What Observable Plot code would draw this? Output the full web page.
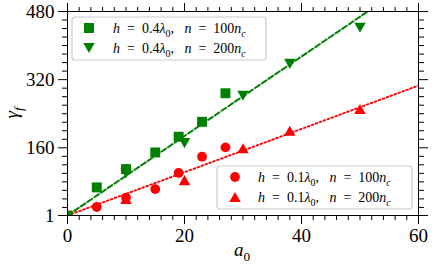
<!DOCTYPE html>
<html><head><meta charset="utf-8">
<script src="https://cdn.jsdelivr.net/npm/d3@7"></script>
<script src="https://cdn.jsdelivr.net/npm/@observablehq/plot@0.6"></script>
<style>body{margin:0;background:#fff} svg{display:block}</style>
</head><body><div id="chart"></div>
<script>
// ---- data ----
const xTicks = [0, 20, 40, 60];
const yTicks = [1, 160, 320, 480];
const xMinor = [2,4,6,8,10,12,14,16,18,22,24,26,28,30,32,34,36,38,42,44,46,48,50,52,54,56,58];
const yMinor = [20,40,60,80,100,120,140,180,200,220,240,260,280,300,340,360,380,400,420,440,460];

const greenSqA  = [0, 5, 10, 15, 19, 23, 27];
const greenSqG  = [1, 67, 110, 149, 186, 221, 288];
const greenTriA = [10, 20, 30, 38, 50];
const greenTriG = [100, 171, 282, 357, 442];
const redCircA  = [5, 10, 15, 19, 23, 27];
const redCircG  = [21, 43, 63, 101, 139, 161];
const redTriA   = [10, 20, 30, 38, 50];
const redTriG   = [40, 84, 159, 200, 251];

const greenFitA = [0, 60];
const greenFitG = [1, 561];
const redFitA   = [0, 60];
const redFitG   = [1, 306];

const legendH = ["0.4", "0.4", "0.1", "0.1"];
const legendN = ["100", "200", "100", "200"];

const rows = (xs, ys) => xs.map((a, i) => ({a, g: ys[i]}));

const triDown = {draw(ctx, size){ const s=Math.sqrt(size/Math.PI), w=s*1.2, h=s*1.05;
  ctx.moveTo(-w,-h); ctx.lineTo(w,-h); ctx.lineTo(0,h); ctx.closePath(); }};
const triUp = {draw(ctx, size){ const s=Math.sqrt(size/Math.PI), w=s*1.2, h=s*1.05;
  ctx.moveTo(-w,h); ctx.lineTo(w,h); ctx.lineTo(0,-h); ctx.closePath(); }};

const serif = "'Liberation Serif','DejaVu Serif',serif";
const tickFont = 19;

const plot = Plot.plot({
  width: 436, height: 272,
  marginLeft: 67, marginRight: 18, marginTop: 11, marginBottom: 57,
  style: {background: "white", fontFamily: serif, color: "black"},
  x: {domain: [0, 60]},
  y: {domain: [1, 480]},
  marks: [
    Plot.line(rows(greenFitA, greenFitG), {x: "a", y: "g", stroke: "green", strokeWidth: 2, strokeDasharray: "5.5,2.6", clip: true}),
    Plot.line(rows(redFitA, redFitG), {x: "a", y: "g", stroke: "red", strokeWidth: 1.9, strokeDasharray: "1.7,2.5", clip: true}),
    Plot.dot(rows(redCircA, redCircG), {x: "a", y: "g", symbol: "circle", r: 4.9, fill: "red", stroke: "none", clip: true}),
    Plot.dot(rows(redTriA, redTriG), {x: "a", y: "g", symbol: triUp, r: 4.8, fill: "red", stroke: "none", clip: true}),
    Plot.dot(rows(greenSqA, greenSqG), {x: "a", y: "g", symbol: "square", r: 5.6, fill: "green", stroke: "none", clip: true}),
    Plot.dot(rows(greenTriA, greenTriG), {x: "a", y: "g", symbol: triDown, r: 4.8, fill: "green", stroke: "none", clip: true}),
    Plot.frame({stroke: "black", strokeWidth: 1}),
    Plot.axisX({ticks: xTicks, tickSize: 9, tickPadding: 4, fontSize: tickFont, label: null, tickFormat: d => String(d)}),
    Plot.axisX({ticks: xMinor, tickSize: 5, label: null, tickFormat: () => ""}),
    Plot.axisX({anchor: "top", ticks: xTicks, tickSize: 9, label: null, tickFormat: () => ""}),
    Plot.axisX({anchor: "top", ticks: xMinor, tickSize: 5, label: null, tickFormat: () => ""}),
    Plot.axisY({ticks: yTicks, tickSize: 9, tickPadding: 4, fontSize: tickFont, label: null, tickFormat: d => String(d)}),
    Plot.axisY({ticks: yMinor, tickSize: 5, label: null, tickFormat: () => ""}),
    Plot.axisY({anchor: "right", ticks: yTicks, tickSize: 9, label: null, tickFormat: () => ""}),
    Plot.axisY({anchor: "right", ticks: yMinor, tickSize: 5, label: null, tickFormat: () => ""})
  ]
});
document.getElementById("chart").appendChild(plot);

const svg = d3.select(plot);
function mathText(sel, parts, size){
  // parts: [text, italic, sub]
  let sub = false;
  parts.forEach(([t, it, s]) => {
    const ts = sel.append("tspan").text(t).attr("font-style", it ? "italic" : "normal");
    if (s && !sub) { ts.attr("dy", size*0.28).attr("font-size", size*0.7); sub = true; }
    else if (s) { ts.attr("font-size", size*0.7); }
    else if (!s && sub) { ts.attr("dy", -size*0.28); sub = false; }
  });
}
// axis labels
const yl = svg.append("text").attr("transform", "translate(18,113) rotate(-90)")
  .attr("text-anchor", "middle").attr("font-family", serif).attr("font-size", 19).attr("fill", "black");
mathText(yl, [["γ", true, false], ["f", true, true]], 19);
const xl = svg.append("text").attr("x", 242).attr("y", 256)
  .attr("text-anchor", "middle").attr("font-family", serif).attr("font-size", 19).attr("fill", "black");
mathText(xl, [["a", true, false], ["0", false, true]], 19);

// legends
const legSymbols = [d3.symbolSquare, triDown, d3.symbolCircle, triUp];
const legSizes = [100, 72, 75, 72];
const legColors = ["green", "green", "red", "red"];
const EQ = "\u2002=\u2002";
function legend(x0, y0, w, h, mx, tx, idx){
  const g = svg.append("g");
  g.append("rect").attr("x", x0).attr("y", y0).attr("width", w).attr("height", h).attr("rx", 3)
    .attr("fill", "white").attr("fill-opacity", 0.8).attr("stroke", "#cccccc").attr("stroke-width", 1.2);
  idx.forEach((k, j) => {
    const cy = y0 + 11 + j * 20;
    g.append("path").attr("d", d3.symbol(legSymbols[k], legSizes[k])()).attr("transform", `translate(${mx},${cy})`).attr("fill", legColors[k]);
    const t = g.append("text").attr("x", tx).attr("y", cy).attr("dy", "0.35em").attr("font-family", serif)
      .attr("text-anchor", "start").attr("font-size", 14).attr("fill", "black").style("white-space", "pre");
    mathText(t, [["h", true, false], [EQ + legendH[k], false, false], ["λ", true, false], ["0", false, true],
      [",   ", false, false], ["n", true, false], [EQ + legendN[k], false, false], ["n", true, false], ["c", true, true]], 14);
  });
}
legend(72, 17, 194, 43, 89, 113, [0, 1]);
legend(217, 166, 195, 43, 235, 258, [2, 3]);
</script>
</body></html>
